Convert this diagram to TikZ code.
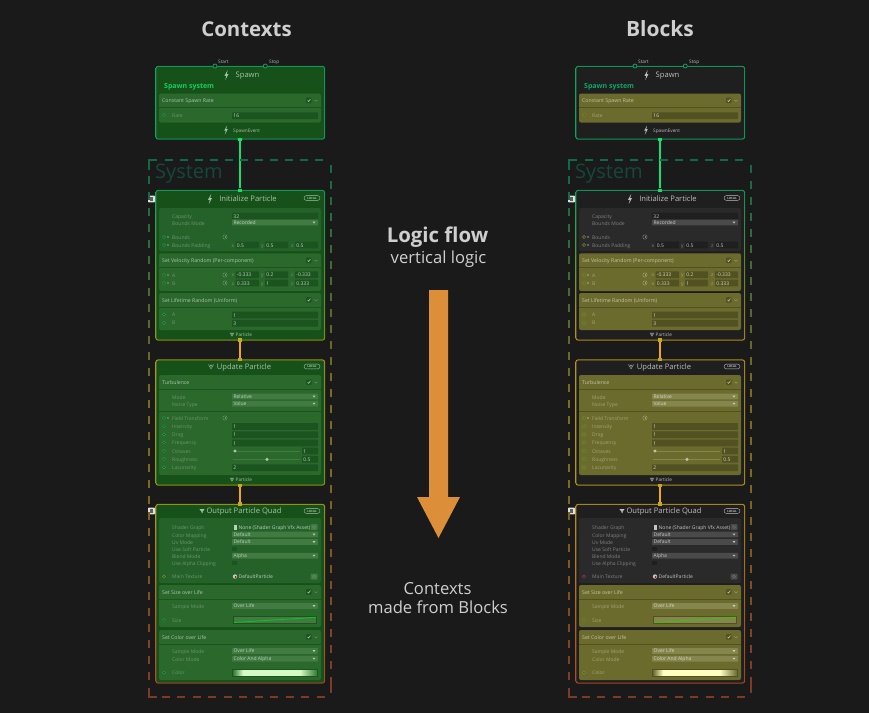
\documentclass[tikz,border=0pt]{standalone}
\usepackage{fontspec}
\setmainfont{Open Sans}
\definecolor{bgc}{HTML}{1A1A1A}
\definecolor{bigtxt}{HTML}{CFCFCF}
\definecolor{arrowc}{HTML}{DC8F38}
\definecolor{dgreen}{HTML}{0F6B47}
\definecolor{dochre}{HTML}{7C6A20}
\definecolor{dred}{HTML}{7E3A24}
\definecolor{bgreen}{HTML}{12A060}
\definecolor{bred}{HTML}{B0482A}
\definecolor{cgreen}{HTML}{10E070}
\definecolor{cgold}{HTML}{F0A818}
\definecolor{sysc}{HTML}{14483A}
\newcount\nid
\tikzset{
  txt/.style={inner sep=0pt,anchor=west,yshift=-.7pt,text height=3.6pt,text depth=1pt,font=\fontsize{5}{6}\selectfont},
  lab/.style={text=labc},
  hdr/.style={text=hdrc,font=\fontsize{5.2}{6}\selectfont},
  val/.style={text=valc},
  ttl/.style={anchor=center,yshift=-.3pt,text=ttlc,text height=5.5pt,text depth=1.6pt,font=\fontsize{7.6}{9}\selectfont},
  smallcap/.style={anchor=west,text=ttlc,font=\fontsize{4.7}{6}\selectfont},
  big/.style={inner sep=0pt,anchor=center,text=bigtxt},
  porta/.style={circle,draw=bgreen,fill=bgc,line width=.8pt,inner sep=0pt,minimum size=4pt},
  sq/.style={rectangle,inner sep=0pt,minimum size=3.6pt},
  dashseg/.style={line width=2pt}
}
\newcommand\T[4][]{\global\advance\nid by 1 \node[txt,#1] (n\the\nid) at (#2,#3) {#4};}
\newcommand\Ctx[6]{%
  \fill[rounded corners=2.5pt,top color=#5,bottom color=#6] (#1-.6,#2-.6) rectangle (#3+.6,#4+.6);
  \fill[rounded corners=2pt,ctxc] (#1+.4,#2+.4) rectangle (#3-.4,#4-.4);}
\newcommand\Blk[2]{\fill[rounded corners=2pt,blkc] (159,#1) rectangle (321,#2);}
\newcommand\Head[2]{%
  \T[hdr]{162}{#1}{#2}
  \fill[rounded corners=.8pt,fldc] (306.2,#1-2.8) rectangle (311.6,#1+2.6);
  \draw[hdrc,line width=.6pt] (307.6,#1) -- (308.6,#1+1) -- (310.4,#1-1.4);
  \draw[labc,line width=.4pt] (314.6,#1-.4) -- (316,#1+.9) -- (317.4,#1-.4);
  \draw[fldc,line width=.35pt] (159,#1+7) -- (321,#1+7);}
\newcommand\Rw[2]{\T[lab]{172}{#1}{#2}}
\newcommand\Pt[1]{\draw[portc,fill=fldc,line width=.5pt] (164,#1) circle (1.6pt);}
\newcommand\PRw[2]{\Pt{#1}\Rw{#1}{#2}}
\newcommand\Tri[1]{\fill[labc] (167.4,#1-1.2) -- (169.3,#1) -- (167.4,#1+1.2) -- cycle;}
\newcommand\LL[1]{\draw[labc,line width=.35pt] (225,#1) circle (2.2pt); \fill[labc] (224.6,#1-1) rectangle (225.1,#1+1);}
\newcommand\Fld[4]{\fill[rounded corners=.5pt,fldc] (#1,#2-3.4) rectangle (#3,#2+3.4); \T[val]{#1+1.2}{#2}{#4}}
\newcommand\Drop[2]{\fill[rounded corners=.5pt,dropc] (232,#1-2.9) rectangle (318,#1+2.9);
  \T[val,yshift=.3pt]{233.4}{#1}{#2}
  \fill[valc] (312.6,#1-.9) -- (315.4,#1-.9) -- (314,#1+1) -- cycle;}
\newcommand\Triple[4]{% y, x,y,z
  \T[lab]{231.5}{#1}{x}\Fld{235.5}{#1}{259}{#2}
  \T[lab]{261}{#1}{y}\Fld{265}{#1}{288}{#3}
  \T[lab]{291}{#1}{z}\Fld{295}{#1}{318}{#4}}
\newcommand\Slider[3]{% y, dot x, value
  \draw[dropc,line width=.7pt] (233,#1) -- (300,#1);
  \fill[hdrc] (#2,#1) circle (1.7pt);
  \Fld{302}{#1}{318}{#3}}
\newcommand\Bolt[3]{\fill[ttlc,shift={(#1,#2)},scale=#3] (1.2,-5) -- (-2,.8) -- (-.2,.8) -- (-1.2,5) -- (2,-1) -- (.2,-1) -- cycle;}
\newcommand\Vee[3]{\draw[ttlc,line width=.35pt,shift={(#1,#2)},scale=#3] (-2.6,-2) -- (0,2.4) -- (2.6,-2) (-1.1,-2) -- (0,0) -- (1.1,-2);}
\newcommand\Funnel[2]{\fill[ttlc,shift={(#1,#2)}] (-2.6,-2) -- (2.6,-2) -- (.5,.7) -- (.5,2.2) -- (-.5,2.2) -- (-.5,.7) -- cycle;}
\newcommand\Pill[1]{\draw[ttlc,line width=.35pt,rounded corners=2.4pt] (304,#1-2.4) rectangle (320,#1+2.4);
  \global\advance\nid by 1 \node[inner sep=0pt,text=ttlc,font=\fontsize{2.9}{3}\selectfont\bfseries] (n\the\nid) at (312,#1) {LOCAL};}
\newcommand\Badge[1]{\fill[rounded corners=.8pt,white!88!black] (148,#1-3.4) rectangle (155,#1+3.4);
  \fill[bgc!70!white] (150.2,#1-1.6) rectangle (152.8,#1+1.6);}
\newcommand\Btn[1]{\fill[rounded corners=.8pt,dropc] (310.5,#1-3) rectangle (317.5,#1+3);
  \draw[labc,line width=.35pt] (314,#1) circle (1.5pt);}
\newcommand\Chk[1]{\fill[fldc] (231.5,#1-2) rectangle (236.5,#1+2);}
% block palettes
\newcommand\Hi{\colorlet{blkc}{hiblk}\colorlet{fldc}{hifld}\colorlet{dropc}{hidrop}\colorlet{labc}{hilab}\colorlet{hdrc}{hihdr}\colorlet{valc}{hival}}
\newcommand\Pl{\colorlet{blkc}{plblk}\colorlet{fldc}{plfld}\colorlet{dropc}{pldrop}\colorlet{labc}{pllab}\colorlet{hdrc}{plhdr}\colorlet{valc}{plval}}
\newcommand\Panel[1]{%
 \Ctx{156}{66.5}{324.5}{139}{bgreen}{bgreen}
 \node[porta] (start#1) at (215,66) {};
 \node[porta] (stop#1) at (265.3,66) {};
 \T[smallcap,text=ttlc]{218}{61}{Start}
 \T[smallcap,text=ttlc]{269}{61}{Stop}
 \Bolt{226.5}{75}{1}
 \T[ttl]{247.5}{75}{Spawn}
 \T[anchor=west,text=spsys,font=\fontsize{7}{8}\selectfont\bfseries,text height=5pt,text depth=1.5pt]{164}{86.5}{Spawn system}
 \Hi\Blk{93.5}{122.5}
 \Head{100.5}{Constant Spawn Rate}
 \Pt{115}\Rw{115}{Rate}
 \Fld{232}{115.7}{318}{16}
 \Bolt{226}{130}{.9}
 \T[smallcap]{233}{130.3}{SpawnEvent}
 % initialize
 \Ctx{156}{190.5}{324.5}{340}{bgreen}{bbotinit}
 \Bolt{210}{199}{1}
 \T[ttl]{248}{199}{Initialize Particle}
 \Pill{198}
 \Badge{199}
 \Pl\Blk{208}{251}
 \Rw{216}{Capacity}\Fld{232}{216}{318}{32}
 \Rw{223}{Bounds Mode}\Drop{222.5}{Recorded}
 \Pt{237}\Tri{237}\Rw{237}{Bounds}\LL{237}
 \Pt{245}\Tri{245}\Rw{245}{Bounds Padding}
 \Triple{245}{0.5}{0.5}{0.5}
 \Hi\Blk{253.3}{291}
 \Head{260.5}{Set Velocity Random (Per-component)}
 \Pt{275}\Tri{275}\Rw{275}{A}\LL{275}\Triple{274.8}{-0.333}{0.2}{-0.333}
 \Pt{283}\Tri{283}\Rw{283}{B}\LL{283}\Triple{283}{0.333}{1}{0.333}
 \Blk{293}{330}
 \Head{300}{Set Lifetime Random (Uniform)}
 \PRw{314.3}{A}\Fld{232}{315}{318}{1}
 \PRw{322.8}{B}\Fld{232}{323.3}{318}{3}
 \Vee{232}{334.3}{.8}
 \T[smallcap]{235.5}{334.3}{Particle}
 % update
 \Ctx{156}{360}{324.5}{485}{btopupd}{bbotupd}
 \Vee{211}{366.5}{1}
 \T[ttl]{244}{366.5}{Update Particle}
 \Pill{366.5}
 \Hi\Blk{375}{475}
 \Head{382.3}{Turbulence}
 \Rw{397}{Mode}\Drop{396.5}{Relative}
 \Rw{404}{Noise Type}\Drop{403.7}{Value}
 \draw[fldc,line width=.35pt] (159,411) -- (321,411);
 \Pt{418}\Tri{418}\Rw{418}{Field Transform}\LL{418}
 \PRw{426.2}{Intensity}\Fld{232}{426.5}{318}{1}
 \PRw{434.3}{Drag}\Fld{232}{434.8}{318}{1}
 \PRw{442.5}{Frequency}\Fld{232}{443}{318}{1}
 \PRw{451}{Octaves}\Slider{451}{235}{1}
 \PRw{459}{Roughness}\Slider{459.3}{267}{0.5}
 \PRw{467.3}{Lacunarity}\Fld{232}{467.7}{318}{2}
 \Vee{232}{479.3}{.8}
 \T[smallcap]{235.5}{479.3}{Particle}
 % output
 \Ctx{156}{504.5}{324.5}{683}{btopupd}{bred}
 \Funnel{202}{511}
 \T[ttl]{244}{511}{Output Particle Quad}
 \Pill{511}
 \Badge{511}
 \Pl\Blk{518}{583}
 \Rw{527}{Shader Graph}
 \fill[valc] (234,524.5) rectangle (237,529.5);
 \T[val]{238.5}{527}{None (Shader Graph Vfx Asset)}
 \Btn{527}
 \Rw{535}{Color Mapping}\Drop{534.5}{Default}
 \Rw{542.3}{Uv Mode}\Drop{542}{Default}
 \Rw{549}{Use Soft Particle}\Chk{549}
 \Rw{556}{Blend Mode}\Drop{555.7}{Alpha}
 \Rw{563}{Use Alpha Clipping}\Chk{563}
 \draw[mainp,line width=.5pt] (164,576.5) circle (1.6pt);
 \Rw{576.5}{Main Texture}
 \fill[valc] (235,576.5) circle (2.2pt); \fill[red!70!black] (235.6,577) circle (1pt);
 \T[val]{238.5}{576.5}{DefaultParticle}
 \Btn{576.5}
 \Hi\Blk{585}{627}
 \Head{592}{Set Size over Life}
 \Rw{606.5}{Sample Mode}\Drop{606}{Over Life}
 \PRw{620}{Size}
 \fill[fldc] (233,616) rectangle (317,624);
 \fill[dropc] (234,617) rectangle (316,623);
 \draw[curvec,line width=.9pt] (234,622.5) -- (316,617.3);
 \Blk{630}{680}
 \Head{637}{Set Color over Life}
 \Rw{651.5}{Sample Mode}\Drop{651}{Over Life}
 \Rw{659}{Color Mode}\Drop{658.7}{Color And Alpha}
 \PRw{672.7}{Color}
 \fill[fldc] (232,669) rectangle (318,677);
 \fill[left color=gradedge,right color=gradlight] (233,670) rectangle (243,675.5);
 \fill[gradlight] (243,670) rectangle (300,675.5);
 \fill[left color=gradlight,right color=gradedge] (300,670) rectangle (317,675.5);
 % connectors
 \node[sq,fill=cgreen] (spawnout#1) at (240,139.3) {};
 \node[sq,fill=cgreen] (initin#1) at (240,190.3) {};
 \draw[cgreen,line width=1.8pt] (spawnout#1) -- (initin#1);
 \node[sq,fill=porty] (initout#1) at (240,340) {};
 \node[sq,fill=porty] (updin#1) at (240,359.5) {};
 \draw[cgold,line width=1.8pt] (initout#1) -- (updin#1);
 \node[sq,fill=porty] (updout#1) at (240,485.3) {};
 \node[sq,fill=porty] (outin#1) at (240,504) {};
 \draw[cgold,line width=1.8pt] (updout#1) -- (outin#1);
 % system frame
 \T[text=sysc,yshift=.7pt,text height=11pt,text depth=1pt,font=\fontsize{20}{22}\selectfont]{155}{173}{System}
 \draw[dgreen,dashseg] (149.3,170) -- (149.3,160.3) -- (157,160.3);
 \foreach \xx in {165,180,...,325}{\draw[dgreen,dashseg] (\xx-.2,160.3) -- (\xx+7.5,160.3);}
 \foreach \yy in {176,192,...,688}{%
   \pgfmathsetmacro\pa{min(100,max(0,(\yy-170)/(400-170)*100))}%
   \pgfmathsetmacro\pb{min(100,max(0,(\yy-480)/(690-480)*100))}%
   \colorlet{dc}{dochre!\pa!dgreen}%
   \ifdim\yy pt>480pt \colorlet{dc}{dred!\pb!dochre}\fi
   \draw[dc,dashseg] (149.3,\yy) -- (149.3,\yy+8);
   \draw[dc,dashseg] (331.3,\yy-11) -- (331.3,\yy-3);}
 \draw[dred,dashseg] (331.3,685) -- (331.3,693);
 \draw[dred,dashseg] (149.3,689) -- (149.3,697) -- (157,697);
 \foreach \xx in {161.5,177,...,325}{\draw[dred,dashseg] (\xx,697) -- (\xx+8,697);}
}
\begin{document}
\begin{tikzpicture}[x=1pt,y=-1pt]
\fill[bgc] (0,0) rectangle (869,713);
\useasboundingbox (0,0) rectangle (869,713);
\node[big,font=\fontsize{20.4}{24}\selectfont\bfseries] (tctx) at (246.5,29) {Contexts};
\node[big,font=\fontsize{21}{24}\selectfont\bfseries] (tblk) at (660,29) {Blocks};
\node[big,font=\fontsize{20.4}{24}\selectfont\bfseries] (tlog) at (437.5,237.5) {Logic flow};
\node[big,font=\fontsize{16.6}{19}\selectfont] (tvert) at (438.5,259.5) {vertical logic};
\node[big,font=\fontsize{16.6}{19}\selectfont] (tc1) at (437.5,588.5) {Contexts};
\node[big,font=\fontsize{16.6}{19}\selectfont] (tc2) at (438,607.5) {made from Blocks};
\fill[arrowc] (429,290) -- (448,290) -- (448,497) -- (460,497) -- (438.5,538) -- (417,497) -- (429,497) -- cycle;
% left panel
\definecolor{ctxc}{HTML}{17511A}
\definecolor{bbotinit}{HTML}{8C9A15}
\definecolor{btopupd}{HTML}{A89A1C}
\definecolor{bbotupd}{HTML}{8C9A15}
\definecolor{hiblk}{HTML}{2A682C}\definecolor{plblk}{HTML}{25622A}
\definecolor{hifld}{HTML}{1C5420}\definecolor{plfld}{HTML}{1C5420}
\definecolor{hidrop}{HTML}{417B42}\definecolor{pldrop}{HTML}{417B42}
\definecolor{hilab}{HTML}{6E9470}\definecolor{pllab}{HTML}{6E9470}
\definecolor{hihdr}{HTML}{AEC4AE}\definecolor{plhdr}{HTML}{AEC4AE}
\definecolor{hival}{HTML}{BCD0BC}\definecolor{plval}{HTML}{BCD0BC}
\definecolor{ttlc}{HTML}{A6C2A6}
\definecolor{spsys}{HTML}{12D060}
\definecolor{portc}{HTML}{1FA050}
\definecolor{mainp}{HTML}{7F8A20}
\definecolor{porty}{HTML}{C8A818}
\definecolor{curvec}{HTML}{10C020}
\definecolor{gradedge}{HTML}{2F7A30}
\definecolor{gradlight}{HTML}{D5FBC5}
\begin{scope}
\Panel{L}
\end{scope}
% right panel
\definecolor{ctxc}{HTML}{1F1F1F}
\definecolor{bbotinit}{HTML}{B8901C}
\definecolor{btopupd}{HTML}{B8951C}
\definecolor{bbotupd}{HTML}{B8951C}
\definecolor{hiblk}{HTML}{6C6B2E}\definecolor{plblk}{HTML}{2A2A2A}
\definecolor{hifld}{HTML}{515122}\definecolor{plfld}{HTML}{1F1F1F}
\definecolor{hidrop}{HTML}{85854E}\definecolor{pldrop}{HTML}{4A4A4A}
\definecolor{hilab}{HTML}{A2A272}\definecolor{pllab}{HTML}{808080}
\definecolor{hihdr}{HTML}{C4C4A4}\definecolor{plhdr}{HTML}{B0B0B0}
\definecolor{hival}{HTML}{D4D4BC}\definecolor{plval}{HTML}{C4C4C4}
\definecolor{ttlc}{HTML}{BEBEBE}
\definecolor{spsys}{HTML}{0FA868}
\definecolor{portc}{HTML}{7A9A30}
\definecolor{mainp}{HTML}{9A3A50}
\definecolor{curvec}{HTML}{40C010}
\definecolor{gradedge}{HTML}{6A6A30}
\definecolor{gradlight}{HTML}{FFFDC0}
\begin{scope}[xshift=420pt]
\Panel{R}
\end{scope}
\end{tikzpicture}
\end{document}
